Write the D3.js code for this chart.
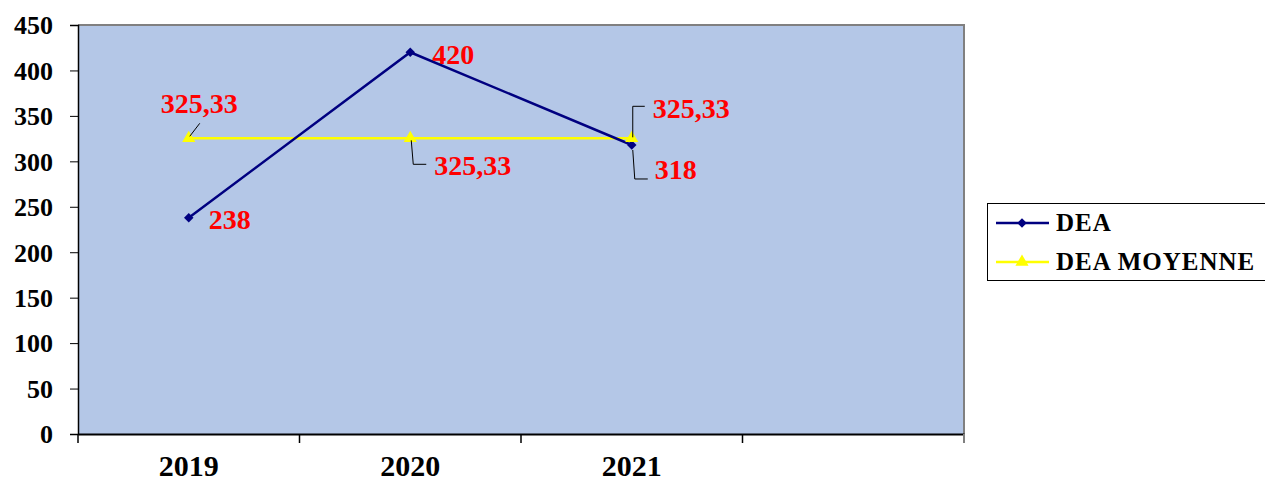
<!DOCTYPE html>
<html><head><meta charset="utf-8">
<script src="https://cdn.jsdelivr.net/npm/d3@7"></script>
<style>body{margin:0;background:#fff}svg{display:block}text{font-family:"Liberation Serif","Times New Roman",serif;font-weight:bold}</style>
</head><body>
<svg id="c" width="1265" height="485"></svg>
<script>
const categories = ["2019","2020","2021",""];
const seriesNames = ["DEA","DEA MOYENNE"];
const dea = [238, 420, 318];
const deaMoyenne = [325.33, 325.33, 325.33];
const deaLabels = ["238","420","318"];
const moyLabels = ["325,33","325,33","325,33"];
const yTicks = [0,50,100,150,200,250,300,350,400,450];

const svg = d3.select("#c");
const L=78, R=964, T=25, B=434;
const x = d3.scaleBand().domain(categories.map((d,i)=>i)).range([L,R]);
const y = d3.scaleLinear().domain([0,450]).range([B,T]);
const cx = i => x(i)+x.bandwidth()/2;

svg.append("rect").attr("x",L).attr("y",T).attr("width",R-L).attr("height",B-T).attr("fill","#B4C7E7");
svg.append("path").attr("d",`M${L},${T}H${R}V${B}`).attr("fill","none").attr("stroke","#808080").attr("stroke-width",2);

// y axis
const ya = svg.append("g").attr("transform",`translate(${L},0)`).call(d3.axisLeft(y).tickValues(yTicks).tickSize(8).tickPadding(17));
ya.select(".domain").attr("stroke","#000").attr("stroke-width",1.5);
ya.selectAll(".tick line").attr("stroke","#000");
ya.selectAll(".tick text").attr("font-size",26).attr("fill","#000").attr("font-family","Liberation Serif").attr("font-weight","bold").attr("dy","0.34em");

// x axis
const xa = svg.append("g").attr("transform",`translate(0,${B})`).call(d3.axisBottom(x).tickSize(0).tickFormat(i=>categories[i]));
xa.select(".domain").attr("stroke","#000").attr("stroke-width",2);
xa.selectAll(".tick text").attr("font-size",30).attr("fill","#000").attr("font-family","Liberation Serif").attr("font-weight","bold").attr("y",42).attr("dy",0);
const edges = categories.map((d,i)=>x(i)).concat([R]);
svg.append("g").selectAll("line").data(edges).join("line")
  .attr("x1",d=>d).attr("x2",d=>d).attr("y1",B).attr("y2",B+9).attr("stroke",(d,i)=>i===edges.length-1?"#808080":"#000").attr("stroke-width",(d,i)=>i===edges.length-1?2:1.5);

// lines
const line = d3.line().x((d,i)=>cx(i)).y(d=>y(d));
svg.append("path").datum(deaMoyenne).attr("d",line).attr("fill","none").attr("stroke","#FFFF00").attr("stroke-width",2.5);
svg.append("path").datum(dea).attr("d",line).attr("fill","none").attr("stroke","#000080").attr("stroke-width",2.5);

const tri = d3.symbol().type(d3.symbolTriangle).size(75);
const dia = d3.symbol().type(d3.symbolSquare).size(45);
svg.append("g").selectAll("path").data(dea).join("path").attr("d",dia).attr("transform",(d,i)=>`translate(${cx(i)},${y(d)}) rotate(45)`).attr("fill","#000080");
svg.append("g").selectAll("path").data(deaMoyenne).join("path").attr("d",tri).attr("transform",(d,i)=>`translate(${cx(i)},${y(d)})`).attr("fill","#FFFF00");

// data labels
const lab = svg.append("g").attr("font-size",28).attr("fill","#FF0000");
const deaOff = [[20,11],[22,12],[23,34]];
dea.forEach((v,i)=>{
  lab.append("text").attr("x",cx(i)+deaOff[i][0]).attr("y",y(v)+deaOff[i][1]).text(deaLabels[i]);
});
const moyOff = [[-28,-25],[24,37],[21,-20]];
deaMoyenne.forEach((v,i)=>{
  lab.append("text").attr("x",cx(i)+moyOff[i][0]).attr("y",y(v)+moyOff[i][1]).text(moyLabels[i]);
});
// leader lines
const ld = svg.append("g").attr("fill","none").attr("stroke","#000").attr("stroke-width",1);
const p0=[cx(0),y(deaMoyenne[0])], p1=[cx(1),y(deaMoyenne[1])], p2=[cx(2),y(deaMoyenne[2])], q2=[cx(2),y(dea[2])];
ld.append("path").attr("d",`M${p0[0]+1},${p0[1]-2}L${p0[0]+11},${p0[1]-15}`);
ld.append("path").attr("d",`M${p1[0]+1},${p1[1]+2}L${p1[0]+3},${p1[1]+26}H${p1[0]+16}`);
ld.append("path").attr("d",`M${p2[0]+1},${p2[1]-1}V${p2[1]-32}H${p2[0]+13}`);
ld.append("path").attr("d",`M${q2[0]+1},${q2[1]+5}L${q2[0]+3},${q2[1]+34}H${q2[0]+16}`);

// legend
const lg = svg.append("g");
lg.append("rect").attr("x",987.5).attr("y",203.5).attr("width",300).attr("height",77).attr("fill","#fff").attr("stroke","#000").attr("stroke-width",1);
const ly=[223,262];
seriesNames.forEach((n,i)=>{
  lg.append("line").attr("x1",996).attr("x2",1049).attr("y1",ly[i]).attr("y2",ly[i]).attr("stroke",i===0?"#000080":"#FFFF00").attr("stroke-width",2.5);
  lg.append("path").attr("d",i===0?dia:tri).attr("transform",`translate(1022,${ly[i]})${i===0?" rotate(45)":""}`).attr("fill",i===0?"#000080":"#FFFF00");
  lg.append("text").attr("x",1056).attr("y",ly[i]+8).attr("font-size",25).attr("letter-spacing",1).attr("fill","#000").text(n);
});
</script>
</body></html>
